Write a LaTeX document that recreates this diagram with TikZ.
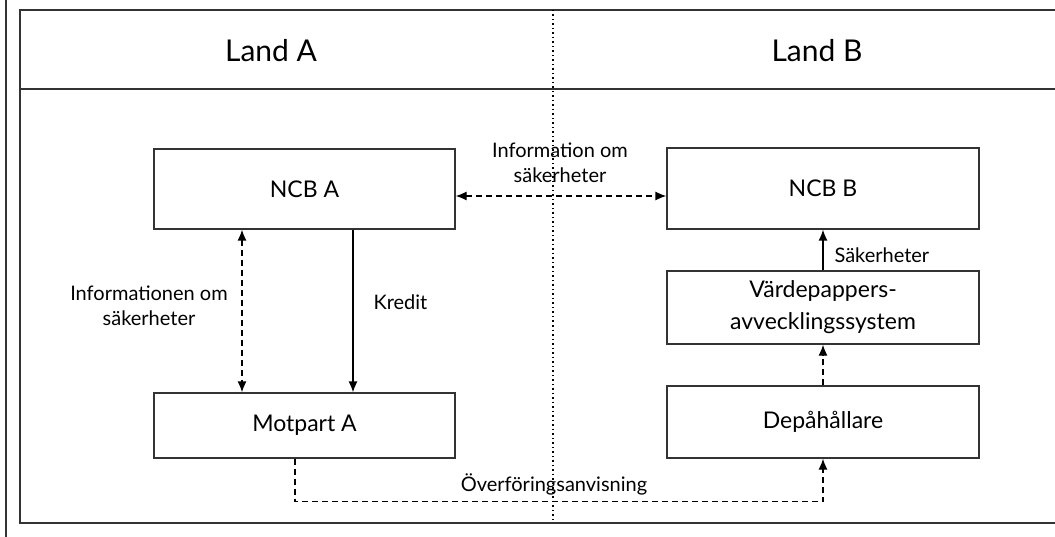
\documentclass[tikz,border=0pt]{standalone}
\usepackage{fontspec}
\setmainfont{Lato}
\usetikzlibrary{arrows.meta,calc}

\tikzset{
	box/.style={rectangle,draw=black!80,line width=1.3pt,fill=white,align=center,text centered,font=\fontsize{23}{32}\selectfont},
	lbl/.style={align=center,font=\fontsize{20}{25}\selectfont},
	pil/.style={line width=1.3pt,-{Latex[length=11pt,width=9pt]}},
	dubbelpil/.style={line width=1.3pt,{Latex[length=11pt,width=9pt]}-{Latex[length=11pt,width=9pt]}},
	streck/.style={dash pattern=on 6pt off 4pt}
}

\begin{document}
\begin{tikzpicture}[x=1pt,y=-1pt]
	\useasboundingbox (0,0) rectangle (1055,537);
	% ram och rubriker
	\draw[line width=1.3pt,black!80] (6,0) -- (6,537);
	\draw[line width=1.3pt,black!80] (1055,10) -- (20,10) -- (20,523) -- (1055,523);
	\draw[line width=1.3pt,black!80] (20,89) -- (1055,89);
	\draw[line width=1.3pt,dash pattern=on 1.5pt off 3pt] (553,10) -- (553,521);
	\node (landA) at (271,51) {\fontsize{30}{36}\selectfont Land A};
	\node (landB) at (817,51) {\fontsize{30}{36}\selectfont Land B};

	\node (ncbA)[box,minimum width=301pt,minimum height=80pt] at (304.5,189) {NCB A};
	\node (ncbB)[box,minimum width=312pt,minimum height=81pt] at (823,188.5) {NCB B};
	\node (motA)[box,minimum width=301pt,minimum height=65pt] at (304.5,425.5) {Motpart A};
	\node (vpss)[box,minimum width=312pt,minimum height=73pt] at (823,307.5) {Värdepappers-\\avvecklingssystem};
	\node (depa)[box,minimum width=312pt,minimum height=72pt] at (823,422) {Depåhållare};

	\draw[dubbelpil,streck] ([yshift=-7pt]ncbA.east) -- ([yshift=-7pt]ncbA.east -| ncbB.west);
	\draw[dubbelpil,streck] ([xshift=-62.5pt]ncbA.south) -- ([xshift=-62.5pt]ncbA.south |- motA.north);
	\draw[pil] ([xshift=48.5pt]ncbA.south) -- ([xshift=48.5pt]ncbA.south |- motA.north);
	\draw[pil] (vpss.north) -- (ncbB.south);
	\draw[pil,streck] (depa.north) -- (vpss.south);
	\draw[pil,streck] ([xshift=-9.5pt]motA.south) -- ++(0,43) -| (depa.south);

	\node (infoAB)[lbl] at (560,163) {Information om\\säkerheter};
	\node (infoA)[lbl] at (149,306) {Informationen om\\säkerheter};
	\node (kredit)[lbl,anchor=west] at (370,302) {Kredit};
	\node (sakerh)[lbl,anchor=west] at (831,255) {Säkerheter};
	\node (overf)[lbl] at (554,484) {Överföringsanvisning};
\end{tikzpicture}
\end{document}
